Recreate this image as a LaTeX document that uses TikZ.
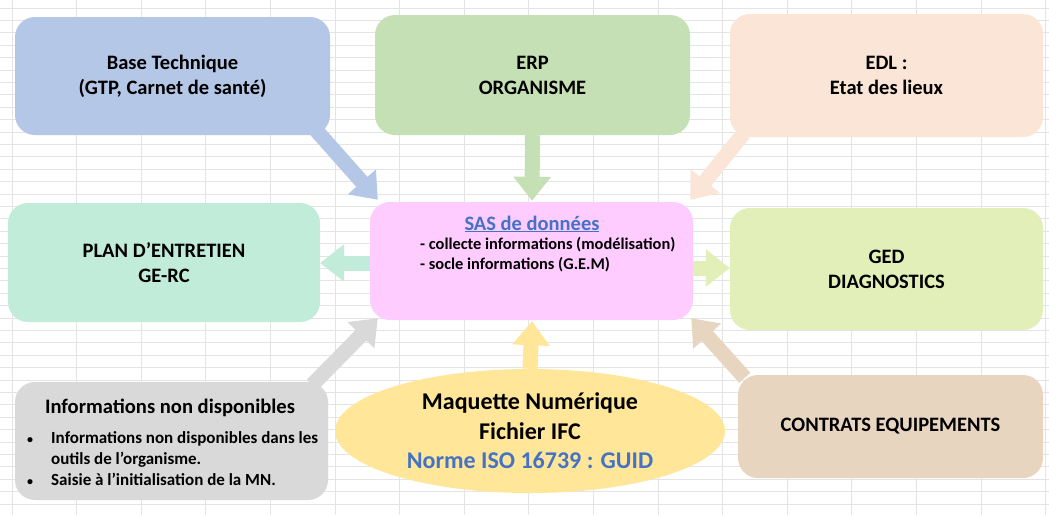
\documentclass[tikz,border=0pt]{standalone}
\usepackage{fontspec}
\setmainfont{Carlito}
\usetikzlibrary{arrows.meta,calc,shapes.geometric}
\definecolor{cBase}{HTML}{B4C7E7}
\definecolor{cErp}{HTML}{C5E0B4}
\definecolor{cEdl}{HTML}{FBE5D6}
\definecolor{cPlan}{HTML}{C0ECD9}
\definecolor{cSas}{HTML}{FFCCFF}
\definecolor{cGed}{HTML}{E2EFB8}
\definecolor{cInfo}{HTML}{D9D9D9}
\definecolor{cMaq}{HTML}{FFE699}
\definecolor{cCon}{HTML}{E7D5C0}
\definecolor{cTxtBlue}{HTML}{4472C4}
\definecolor{cGrid}{HTML}{E4E4E4}
\tikzset{
  boxnode/.style={rounded corners=20pt, inner sep=0pt, align=center,
    font=\bfseries\fontsize{20.5}{25}\selectfont},
  blockarrow/.style={line width=15pt, -{Triangle[width=36pt,length=24pt]}},
}
\begin{document}
\begin{tikzpicture}[x=1pt,y=-1pt]
\useasboundingbox (0,0) rectangle (1049,515);
\fill[white] (0,0) rectangle (1049,515);
% spreadsheet grid
\foreach \i in {0,...,16} {\draw[cGrid, line width=1pt] ({12+64.6*\i},0) -- ({12+64.6*\i},515);}
\foreach \j in {0,...,41} {\draw[cGrid, line width=0.8pt] (0,{8+12.4*\j}) -- (1049,{8+12.4*\j});}

% boxes
\node[boxnode, fill=cBase, minimum width=315pt, minimum height=118pt] (base) at (172.5,76) {Base Technique\\(GTP, Carnet de santé)};
\node[boxnode, fill=cErp, minimum width=315pt, minimum height=120pt] (erp) at (532.5,75) {ERP\\ORGANISME};
\node[boxnode, fill=cEdl, minimum width=313pt, minimum height=123pt] (edl) at (886.5,75.5) {EDL :\\Etat des lieux};
\node[boxnode, fill=cPlan, minimum width=312pt, minimum height=119pt] (plan) at (164,262.5) {PLAN D’ENTRETIEN\\GE-RC};
\node[boxnode, fill=cSas, minimum width=323pt, minimum height=118pt] (sas) at (531.5,261) {};
\node[boxnode, fill=cGed, minimum width=313pt, minimum height=122pt] (ged) at (886.5,269) {GED\\DIAGNOSTICS};
\node[boxnode, fill=cInfo, minimum width=313pt, minimum height=118pt] (info) at (171.5,441) {};
\node[ellipse, fill=cMaq, minimum width=390pt, minimum height=124pt, inner sep=0pt, align=center,
  font=\bfseries\fontsize{24}{29.5}\selectfont] (maq) at (530,431)
  {Maquette Numérique\\Fichier IFC\\\textcolor{cTxtBlue}{Norme ISO 16739 : GUID}};
\node[boxnode, fill=cCon, minimum width=305pt, minimum height=103pt] (con) at (890.5,426.5) {CONTRATS EQUIPEMENTS};

% texts inside SAS and info boxes
\node[font=\bfseries\fontsize{20.5}{24}\selectfont, text=cTxtBlue, inner sep=0pt] (sastitle) at (532,224) {\underline{SAS de données}};
\node[font=\bfseries\fontsize{16.4}{20}\selectfont, anchor=north west, inner sep=0pt, align=left] (saslines) at (420,237)
  {- collecte informations (modélisation)\\- socle informations (G.E.M)};
\node[font=\bfseries\fontsize{20.6}{24}\selectfont, inner sep=0pt] (infotitle) at (170,408) {Informations non disponibles};
\node[font=\bfseries\fontsize{17}{21}\selectfont, anchor=north west, inner sep=0pt] (infolines) at (27,429)
  {\begin{tabular}{@{}l@{\hspace{18pt}}l@{}}
   {\fontsize{12}{12}\selectfont\textbullet} & Informations non disponibles dans les\\
               & outils de l’organisme.\\
   {\fontsize{12}{12}\selectfont\textbullet} & Saisie à l’initialisation de la MN.
   \end{tabular}};

% arrow end points
\coordinate (sasL) at ($(sas.west)+(0,2)$);
\coordinate (planR) at (sasL -| plan.east);
\coordinate (sasR) at ($(sas.east)+(0,7)$);
\coordinate (gedL) at (sasR -| ged.west);

% arrows
\draw[blockarrow, cBase] ($(base.south east)+(-15,-6)$) -- ($(sas.north west)+(8,-2)$);
\draw[blockarrow, cErp] (erp.south) -- ($(sas.north)+(0.5,-1)$);
\draw[blockarrow, cEdl] ($(edl.south west)+(14,-4)$) -- ($(sas.north east)+(-3,-2)$);
\draw[blockarrow, cPlan] (sasL) -- (planR);
\draw[blockarrow, cGed] (sasR) -- (gedL);
\draw[blockarrow, cInfo] ($(info.north east)+(-16,3)$) -- ($(sas.south west)+(8,-2)$);
\draw[blockarrow, cMaq] (maq.north) -- ($(sas.south)+(0.5,1)$);
\draw[blockarrow, cCon] ($(con.north west)+(7,3)$) -- ($(sas.south east)+(-2,-2)$);
\end{tikzpicture}
\end{document}
